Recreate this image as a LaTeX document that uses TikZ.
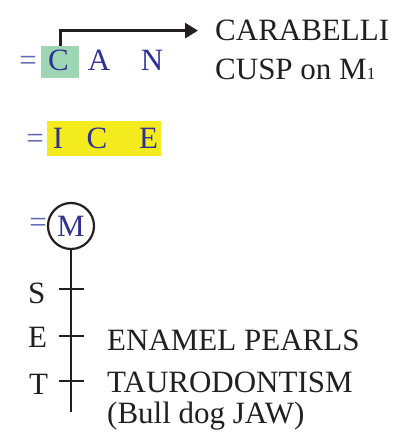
\documentclass[tikz,border=0pt]{standalone}
\usepackage{fontspec}
\setmainfont{Liberation Serif}
\usetikzlibrary{arrows.meta}
\definecolor{ink}{HTML}{231F20}
\definecolor{letterblue}{HTML}{2E3192}
\definecolor{eqblue}{HTML}{6368B8}
\definecolor{boxgreen}{HTML}{9ED6B4}
\definecolor{boxyellow}{HTML}{F4EB1E}
\begin{document}
\begin{tikzpicture}[x=1pt,y=-1pt,
  txt/.style={font=\fontsize{31}{31}\selectfont, inner sep=0pt, text=ink},
  blet/.style={txt, text=letterblue, anchor=base},
  eqs/.style={txt, text=eqblue, anchor=base},
  lbl/.style={txt, anchor=base west},
  ln/.style={line width=2pt, draw=ink}]
\useasboundingbox (0,0) rectangle (400,439);
% row 1: C A N
\node[eqs] (eq1) at (28,70) {=};
\node[fill=boxgreen, minimum width=38pt, minimum height=32pt, inner sep=0pt] (cbox) at (60,61.7) {};
\node[blet] (c1) at (58.5,70) {C};
\node[blet] (a1) at (99,70) {A};
\node[blet] (n1) at (152,70) {N};
\node[lbl] (carab) at (215,40.7) {CARABELLI};
\node[lbl] (cusp) at (215,79) {CUSP on M{\fontsize{17}{17}\selectfont 1}};
\draw[ln, line width=3pt, -{Triangle[length=13pt,width=15pt]}] (cbox.north) |- ([xshift=-17pt]carab.west);
% row 2: I C E
\node[eqs] (eq2) at (35,148) {=};
\node[fill=boxyellow, minimum width=114pt, minimum height=35pt, inner sep=0pt] (ybox) at (104,138.5) {};
\node[blet] (i2) at (58,148) {I};
\node[blet] (c2) at (97,148) {C};
\node[blet] (e2) at (148.5,148) {E};
% row 3: M with S E T
\node[eqs] (eq3) at (38,232) {=};
\node[circle, draw=ink, line width=2.2pt, minimum size=46pt, inner sep=0pt, font=\fontsize{31}{31}\selectfont, text=letterblue] (m) at (71,226) {M};
\coordinate (lineend) at (71,412);
\draw[ln] (m.south) -- (lineend);
\coordinate (s0) at (59,289); \coordinate (s1) at (84,289);
\coordinate (e0) at (59,336); \coordinate (e1) at (84,336);
\coordinate (t0) at (59,381); \coordinate (t1) at (84,381);
\draw[ln] (s0) -- (s1);
\draw[ln] (e0) -- (e1);
\draw[ln] (t0) -- (t1);
\node[lbl] (s) at (28,303) {S};
\node[lbl] (e) at (28,347) {E};
\node[lbl] (t) at (29,394) {T};
\node[lbl] (enamel) at (107,350) {ENAMEL PEARLS};
\node[lbl] (tauro) at (107,392) {TAURODONTISM};
\node[lbl] (bull) at (107,423) {(Bull dog JAW)};
\end{tikzpicture}
\end{document}
